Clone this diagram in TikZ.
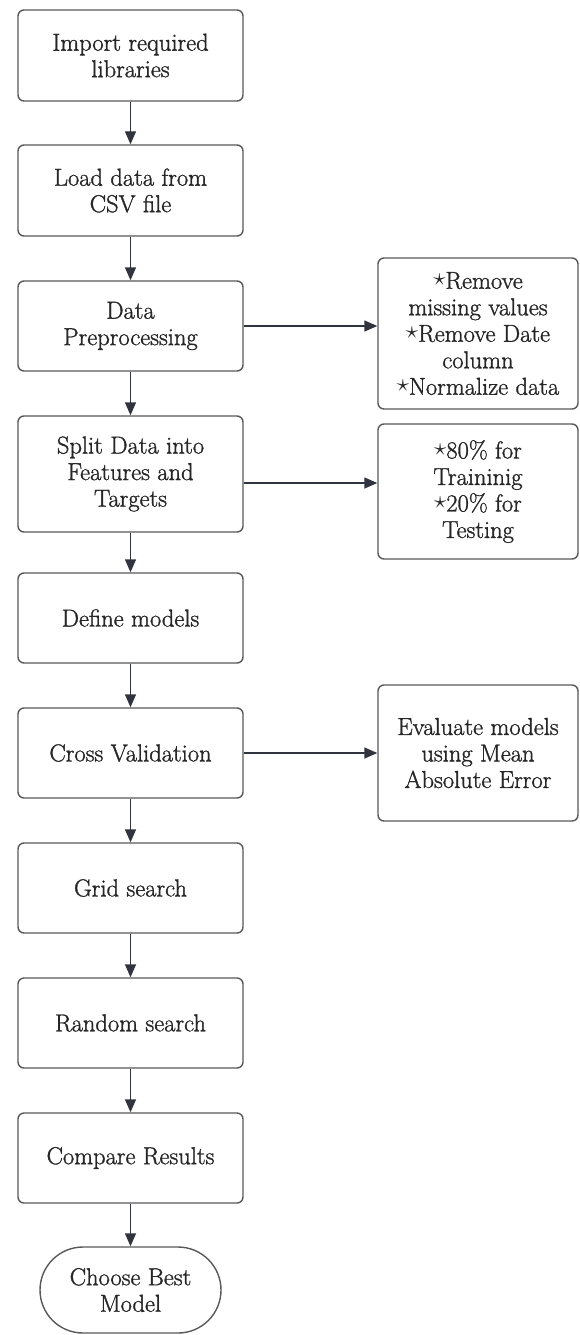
\documentclass[tikz,border=0pt]{standalone}
\usepackage{fontspec}
\setmainfont{Latin Modern Roman}[UprightFeatures={FakeBold=1.2}]
\usetikzlibrary{arrows.meta,shapes.misc}
\begin{document}
\begin{tikzpicture}[x=1pt,y=-1pt,
  every node/.style={font=\fontsize{24.5}{26.5}\selectfont, text=black!85},
  stepbox/.style={draw=black!65, line width=1.4pt, rounded corners=6pt,
    minimum width=225pt, align=center, inner sep=0pt, fill=white},
  notebox/.style={draw=black!65, line width=1.4pt, rounded corners=6pt,
    minimum width=200pt, align=center, inner sep=0pt, fill=white},
  endbox/.style={draw=black!65, line width=1.4pt, rounded rectangle,
    minimum width=181pt, minimum height=86pt, align=center, inner sep=0pt}
]
\definecolor{lineclr}{HTML}{30343E}
\tikzset{arr/.style={draw=lineclr, line width=1.4pt, -{Triangle[length=13pt,width=11pt]}}}
\useasboundingbox[fill=white] (0,0) rectangle (579,1335);
% small raised star used as a bullet, kept out of the line height
\newcommand{\bul}{\raisebox{0.12em}[0pt][0pt]{\scalebox{1.0}{$\star$}}}

% main pipeline
\node[stepbox, minimum height=91pt]  (imp)  at (130.5,55.5)  {Import required\\libraries};
\node[stepbox, minimum height=91pt]  (load) at (130.5,190.5) {Load data from\\CSV file};
\node[stepbox, minimum height=90pt]  (pre)  at (130.5,326)   {Data\\Preprocessing};
\node[stepbox, minimum height=116pt] (spl)  at (130.5,474)   {Split Data into\\Features and\\Targets};
\node[stepbox, minimum height=90pt]  (def)  at (130.5,618)   {Define models};
\node[stepbox, minimum height=90pt]  (cv)   at (130.5,753)   {Cross Validation};
\node[stepbox, minimum height=90pt]  (grid) at (130.5,888)   {Grid search};
\node[stepbox, minimum height=90pt]  (rand) at (130.5,1023)  {Random search};
\node[stepbox, minimum height=90pt]  (cmp)  at (130.5,1158)  {Compare Results};
\node[endbox]                        (best) at (130.5,1290)  {Choose Best\\Model};

% side notes
\node[notebox, minimum height=151pt] (n1) at (478,333.5)
  {\bul Remove\\missing values\\\bul Remove Date\\column\\\bul Normalize data};
\node[notebox, minimum height=135pt] (n2) at (478,491.5)
  {\bul 80\% for\\Traininig\\\bul 20\% for\\Testing};
\node[notebox, minimum height=136pt] (n3) at (478,753)
  {Evaluate models\\using Mean\\Absolute Error};

% vertical flow
\draw[arr] (imp)  -- (load);
\draw[arr] (load) -- (pre);
\draw[arr] (pre)  -- (spl);
\draw[arr] (spl)  -- (def);
\draw[arr] (def)  -- (cv);
\draw[arr] (cv)   -- (grid);
\draw[arr] (grid) -- (rand);
\draw[arr] (rand) -- (cmp);
\draw[arr] (cmp)  -- (best);

% branches to the notes
\draw[arr] (pre.east) -- (pre.east -| n1.west);
\draw[arr] ([yshift=-9pt]spl.east) -- ([yshift=-9pt]spl.east -| n2.west);
\draw[arr] (cv.east) -- (cv.east -| n3.west);
\end{tikzpicture}
\end{document}
